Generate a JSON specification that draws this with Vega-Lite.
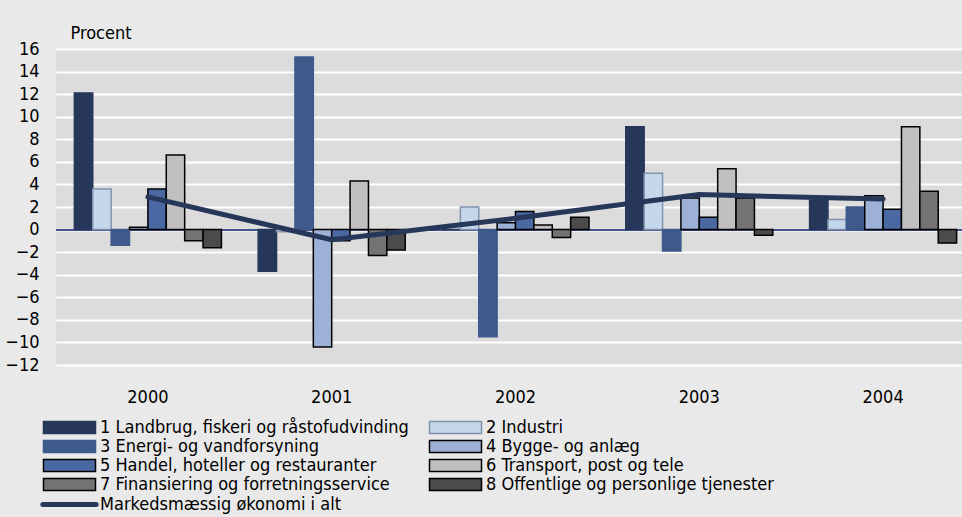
{
  "$schema": "https://vega.github.io/schema/vega-lite/v6.json",
  "autosize": {"type": "none"},
  "padding": {"left": 56, "top": 49, "right": 0, "bottom": 152},
  "width": 906,
  "height": 316,
  "background": "#e9e9e9",
  "config": {
    "view": {"fill": "#dcdcdc", "stroke": null},
    "font": "DejaVu Sans Condensed, Liberation Sans Narrow, sans-serif",
    "axis": {"labelFont": "DejaVu Sans Condensed, Liberation Sans Narrow, sans-serif", "titleFont": "DejaVu Sans Condensed, Liberation Sans Narrow, sans-serif", "labelColor": "#000000", "titleColor": "#000000"}
  },
  "data": {
    "values": [
      {"aar": "2000", "sektor": "1 Landbrug, fiskeri og råstofudvinding", "v": 12.1},
      {"aar": "2000", "sektor": "2 Industri", "v": 3.6},
      {"aar": "2000", "sektor": "3 Energi- og vandforsyning", "v": -1.4},
      {"aar": "2000", "sektor": "4 Bygge- og anlæg", "v": 0.2},
      {"aar": "2000", "sektor": "5 Handel, hoteller og restauranter", "v": 3.6},
      {"aar": "2000", "sektor": "6 Transport, post og tele", "v": 6.6},
      {"aar": "2000", "sektor": "7 Finansiering og forretningsservice", "v": -1.0},
      {"aar": "2000", "sektor": "8 Offentlige og personlige tjenester", "v": -1.6},
      {"aar": "2000", "sektor": "Markedsmæssig økonomi i alt", "v": 2.9},
      {"aar": "2001", "sektor": "1 Landbrug, fiskeri og råstofudvinding", "v": -3.7},
      {"aar": "2001", "sektor": "2 Industri", "v": -0.2},
      {"aar": "2001", "sektor": "3 Energi- og vandforsyning", "v": 15.3},
      {"aar": "2001", "sektor": "4 Bygge- og anlæg", "v": -10.4},
      {"aar": "2001", "sektor": "5 Handel, hoteller og restauranter", "v": -1.0},
      {"aar": "2001", "sektor": "6 Transport, post og tele", "v": 4.3},
      {"aar": "2001", "sektor": "7 Finansiering og forretningsservice", "v": -2.3},
      {"aar": "2001", "sektor": "8 Offentlige og personlige tjenester", "v": -1.8},
      {"aar": "2001", "sektor": "Markedsmæssig økonomi i alt", "v": -0.9},
      {"aar": "2002", "sektor": "1 Landbrug, fiskeri og råstofudvinding", "v": 0.0},
      {"aar": "2002", "sektor": "2 Industri", "v": 2.0},
      {"aar": "2002", "sektor": "3 Energi- og vandforsyning", "v": -9.5},
      {"aar": "2002", "sektor": "4 Bygge- og anlæg", "v": 0.6},
      {"aar": "2002", "sektor": "5 Handel, hoteller og restauranter", "v": 1.6},
      {"aar": "2002", "sektor": "6 Transport, post og tele", "v": 0.4},
      {"aar": "2002", "sektor": "7 Finansiering og forretningsservice", "v": -0.7},
      {"aar": "2002", "sektor": "8 Offentlige og personlige tjenester", "v": 1.1},
      {"aar": "2002", "sektor": "Markedsmæssig økonomi i alt", "v": 1.0},
      {"aar": "2003", "sektor": "1 Landbrug, fiskeri og råstofudvinding", "v": 9.1},
      {"aar": "2003", "sektor": "2 Industri", "v": 5.0},
      {"aar": "2003", "sektor": "3 Energi- og vandforsyning", "v": -1.9},
      {"aar": "2003", "sektor": "4 Bygge- og anlæg", "v": 2.8},
      {"aar": "2003", "sektor": "5 Handel, hoteller og restauranter", "v": 1.1},
      {"aar": "2003", "sektor": "6 Transport, post og tele", "v": 5.4},
      {"aar": "2003", "sektor": "7 Finansiering og forretningsservice", "v": 2.8},
      {"aar": "2003", "sektor": "8 Offentlige og personlige tjenester", "v": -0.5},
      {"aar": "2003", "sektor": "Markedsmæssig økonomi i alt", "v": 3.1},
      {"aar": "2004", "sektor": "1 Landbrug, fiskeri og råstofudvinding", "v": 2.6},
      {"aar": "2004", "sektor": "2 Industri", "v": 0.9},
      {"aar": "2004", "sektor": "3 Energi- og vandforsyning", "v": 2.0},
      {"aar": "2004", "sektor": "4 Bygge- og anlæg", "v": 3.0},
      {"aar": "2004", "sektor": "5 Handel, hoteller og restauranter", "v": 1.8},
      {"aar": "2004", "sektor": "6 Transport, post og tele", "v": 9.1},
      {"aar": "2004", "sektor": "7 Finansiering og forretningsservice", "v": 3.4},
      {"aar": "2004", "sektor": "8 Offentlige og personlige tjenester", "v": -1.2},
      {"aar": "2004", "sektor": "Markedsmæssig økonomi i alt", "v": 2.7}
    ]
  },
  "layer": [
    {
      "mark": {"type": "rule", "stroke": "#3e5a8a", "strokeWidth": 1},
      "encoding": {
        "y": {
          "datum": 0, "type": "quantitative", "title": "Procent",
          "scale": {"domain": [-12, 16], "nice": false, "zero": false},
          "axis": {"values": [-12, -10, -8, -6, -4, -2, 0, 2, 4, 6, 8, 10, 12, 14, 16], "labelOverlap": false, "domain": false, "ticks": false, "labelFontSize": 18, "labelPadding": 17, "grid": true, "gridColor": "#ffffff", "gridWidth": 2, "titleAngle": 0, "titleAlign": "left", "titleBaseline": "alphabetic", "titleX": 14, "titleY": -11, "titleFontSize": 18, "titleFontWeight": "normal"}
        }
      }
    },
    {
      "transform": [{"filter": "datum.sektor != 'Markedsmæssig økonomi i alt'"}],
      "mark": {"type": "bar", "strokeWidth": 1.5},
      "encoding": {
        "x": {
          "field": "aar", "type": "nominal",
          "scale": {"range": [0, 919], "paddingInner": 0, "paddingOuter": 0},
          "axis": {"title": null, "labelAngle": 0, "domain": false, "ticks": false, "labelFontSize": 18, "labelPadding": 23, "grid": false}
        },
        "xOffset": {
          "field": "sektor", "type": "nominal",
          "scale": {"domain": ["1 Landbrug, fiskeri og råstofudvinding", "2 Industri", "3 Energi- og vandforsyning", "4 Bygge- og anlæg", "5 Handel, hoteller og restauranter", "6 Transport, post og tele", "7 Finansiering og forretningsservice", "8 Offentlige og personlige tjenester"], "paddingInner": 0, "paddingOuter": 1.22}
        },
        "y": {
          "field": "v", "type": "quantitative",
          "title": "Procent",
          "axis": {"values": [-12, -10, -8, -6, -4, -2, 0, 2, 4, 6, 8, 10, 12, 14, 16], "labelOverlap": false, "domain": false, "ticks": false, "labelFontSize": 18, "labelPadding": 17, "grid": true, "gridColor": "#ffffff", "gridWidth": 2, "titleAngle": 0, "titleAlign": "left", "titleBaseline": "alphabetic", "titleX": 14, "titleY": -11, "titleFontSize": 18, "titleFontWeight": "normal"}
        },
        "color": {
          "field": "sektor", "type": "nominal",
          "scale": {
            "domain": ["1 Landbrug, fiskeri og råstofudvinding", "3 Energi- og vandforsyning", "5 Handel, hoteller og restauranter", "7 Finansiering og forretningsservice", "Markedsmæssig økonomi i alt", "2 Industri", "4 Bygge- og anlæg", "6 Transport, post og tele", "8 Offentlige og personlige tjenester"],
            "range": ["#26375a", "#3e5a8a", "#4a69a3", "#737373", "#26375a", "#c6d7ec", "#9db1d6", "#c0c0c0", "#4b4b4b"]
          },
          "legend": {
            "title": null, "orient": "none", "legendX": 4.5, "legendY": 369.5, "columns": 2, "direction": "vertical",
            "padding": 0, "rowPadding": 1, "columnPadding": 17,
            "symbolType": "M-4,-0.92H4V0.92H-4Z", "symbolSize": 169, "symbolStrokeWidth": 1.5,
            "labelFontSize": 18, "labelFont": "DejaVu Sans Condensed, Liberation Sans Narrow, sans-serif", "labelColor": "#000000", "labelOffset": 21.5, "labelLimit": 420,
            "encode": {
              "symbols": {
                "update": {
                  "shape": {"signal": "datum.value === 'Markedsmæssig økonomi i alt' ? 'M-4.1,0H4.1' : 'M-4,-0.92H4V0.92H-4Z'"},
                  "strokeWidth": {"signal": "datum.value === 'Markedsmæssig økonomi i alt' ? 5 : 1.5"},
                  "stroke": {"signal": "datum.value === 'Markedsmæssig økonomi i alt' || datum.value === '1 Landbrug, fiskeri og råstofudvinding' ? '#26375a' : datum.value === '2 Industri' ? '#8393ab' : datum.value === '3 Energi- og vandforsyning' ? '#3e5a8a' : '#000000'"},
                  "strokeCap": {"value": "round"},
                  "strokeOpacity": {"value": 1}
                }
              }
            }
          }
        },
        "stroke": {
          "field": "sektor", "type": "nominal",
          "scale": {
            "domain": ["1 Landbrug, fiskeri og råstofudvinding", "2 Industri", "3 Energi- og vandforsyning", "4 Bygge- og anlæg", "5 Handel, hoteller og restauranter", "6 Transport, post og tele", "7 Finansiering og forretningsservice", "8 Offentlige og personlige tjenester"],
            "range": ["#26375a", "#8393ab", "#3e5a8a", "#000000", "#000000", "#000000", "#000000", "#000000"]
          },
          "legend": null
        }
      }
    },
    {
      "transform": [{"filter": "datum.sektor == 'Markedsmæssig økonomi i alt'"}],
      "mark": {"type": "line", "stroke": "#26375a", "strokeWidth": 5, "strokeCap": "round", "strokeJoin": "round"},
      "encoding": {
        "x": {"field": "aar", "type": "nominal"},
        "y": {
          "field": "v", "type": "quantitative", "title": "Procent",
          "axis": {"values": [-12, -10, -8, -6, -4, -2, 0, 2, 4, 6, 8, 10, 12, 14, 16], "labelOverlap": false, "domain": false, "ticks": false, "labelFontSize": 18, "labelPadding": 17, "grid": true, "gridColor": "#ffffff", "gridWidth": 2, "titleAngle": 0, "titleAlign": "left", "titleBaseline": "alphabetic", "titleX": 14, "titleY": -11, "titleFontSize": 18, "titleFontWeight": "normal"}
        }
      }
    }
  ]
}
